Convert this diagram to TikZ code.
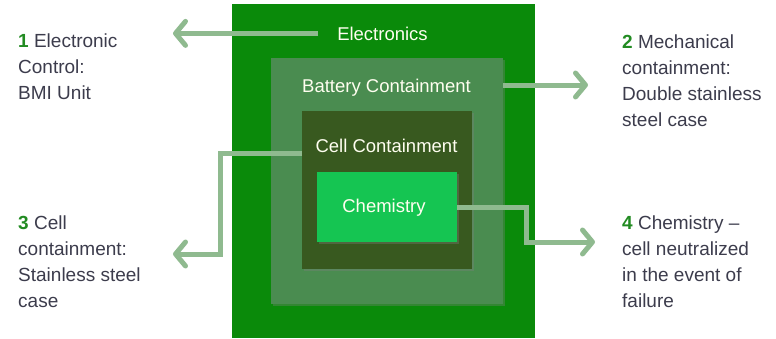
\documentclass[tikz,border=0pt]{standalone}
\usepackage{fontspec}
\setmainfont{Liberation Sans}
\usepackage{xcolor}
\usetikzlibrary{arrows.meta, positioning, calc, shadows}
\definecolor{elecgreen}{HTML}{0A8A0A}
\definecolor{battgreen}{HTML}{4A8C50}
\definecolor{cellgreen}{HTML}{38591F}
\definecolor{chemgreen}{HTML}{15C552}
\definecolor{connlight}{HTML}{8FBA8F}
\definecolor{labelgray}{HTML}{3C3C4C}
\definecolor{numgreen}{HTML}{228B22}

\begin{document}
\begin{tikzpicture}[
  x=1pt, y=-1pt,
  layer/.style={rectangle, anchor=north west, inner sep=0pt, draw=none},
  shade3d/.style={drop shadow={shadow xshift=1.5pt, shadow yshift=-1.5pt, opacity=0.35}},
  boxtext/.style={anchor=base, inner sep=0pt, text=white!94!yellow, font=\fontsize{18.5}{22}\selectfont},
  note/.style={anchor=north west, align=left, inner sep=0pt, text=labelgray, font=\fontsize{19}{25.8}\selectfont},
  conn/.style={-{Straight Barb[length=10pt, width=24pt, round]}, line width=5pt, color=connlight},
]
  \useasboundingbox (0,0) rectangle (776,338);

  % nested containment layers
  \node[layer, fill=elecgreen, minimum width=303pt, minimum height=334pt] (elecbox) at (232,4) {};
  \node[layer, shade3d, fill=battgreen, minimum width=232pt, minimum height=246pt] (battery) at (271,58) {};
  \node[layer, shade3d, fill=cellgreen, minimum width=170pt, minimum height=158pt] (cell) at (302,111) {};
  \node[layer, shade3d, fill=chemgreen, minimum width=140pt, minimum height=70pt] (chem) at (317,172) {};

  \node[boxtext] (electronics) at (382.5,40) {Electronics};
  \node[boxtext] (batterytext) at (386.5,92) {Battery Containment};
  \node[boxtext] (celltext) at (386.5,152) {Cell Containment};
  \node[boxtext] (chemtext) at (384,212) {Chemistry};

  % side notes
  \node[note] (note1) at (18,34) {\textbf{\color{numgreen}1} Electronic\\Control:\\BMI Unit};
  \node[note] (note2) at (622,35) {\textbf{\color{numgreen}2} Mechanical\\containment:\\Double stainless\\steel case};
  \node[note] (note3) at (18,216) {\textbf{\color{numgreen}3} Cell\\containment:\\Stainless steel\\case};
  \node[note] (note4) at (622,216) {\textbf{\color{numgreen}4} Chemistry --\\cell neutralized\\in the event of\\failure};

  \coordinate (tip1) at (173,33);
  \coordinate (tip2) at (588,85);
  \coordinate (bend3) at (220,254);
  \coordinate (tip3) at (173,254);
  \coordinate (bend4) at (526,242);
  \coordinate (tip4) at (595,242);

  \draw[conn] ([xshift=-19pt]electronics.west) -- (electronics.west -| tip1);
  \draw[conn] ([yshift=-27pt]battery.north east) -- (tip2);
  \draw[conn] ([yshift=-42pt]cell.north west) -| (bend3) -- (tip3);
  \draw[conn] (chem.east) -| (bend4) -- (tip4);

\end{tikzpicture}
\end{document}
